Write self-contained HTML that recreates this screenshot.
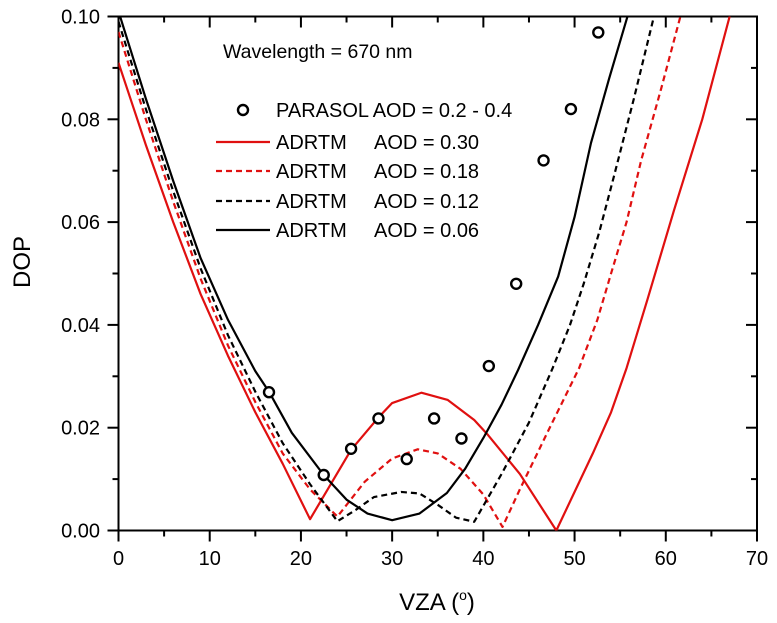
<!DOCTYPE html>
<html><head><meta charset="utf-8"><style>
body{margin:0;background:#fff}
svg{display:block;font-family:"Liberation Sans",Arial,sans-serif}
</style></head><body>
<svg id="chart" width="777" height="623" viewBox="0 0 777 623">
<defs><clipPath id="clip"><rect x="118.5" y="16.5" width="638.5" height="514"/></clipPath></defs>
<g id="axes"></g>
<g id="series" clip-path="url(#clip)"></g>
<g id="legend">
<text x="223" y="58" font-size="19.5">Wavelength = 670 nm</text>
</g>
<text x="437" y="610" font-size="24" text-anchor="middle">VZA (<tspan font-size="14" dy="-10">o</tspan><tspan dy="10">)</tspan></text>
<text transform="translate(30,262) rotate(-90)" font-size="24" text-anchor="middle">DOP</text>
</svg>
<script>
const xTicks=[0,10,20,30,40,50,60,70];
const yTicks=[0,0.02,0.04,0.06,0.08,0.10];
const yTickLabels=["0.00","0.02","0.04","0.06","0.08","0.10"];
const parasolX=[16.5,22.5,25.5,28.5,31.6,34.6,37.6,40.6,43.6,46.6,49.6,52.6];
const parasolY=[0.0269,0.0108,0.0159,0.0218,0.0139,0.0218,0.0179,0.032,0.048,0.072,0.082,0.0969];
const red30X=[0,3,6,9,12,15,18,21,25.5,28.5,30,33.2,36.1,39,40.5,44,48,52,54,55.7,58,60.9,64,67];
const red30Y=[0.091,0.075,0.060,0.046,0.034,0.023,0.013,0.0022,0.0157,0.022,0.0248,0.0268,0.0254,0.0215,0.0186,0.011,0,0.015,0.023,0.0316,0.045,0.0623,0.080,0.1];
const red18X=[0,3,6,9,12,15,18,21,24,27,30,32.8,35,37.5,40,42.1,44,47,50.5,52.5,54,55.7,57.3,59.5,61.6];
const red18Y=[0.097,0.080,0.064,0.049,0.036,0.025,0.015,0.008,0.0027,0.0095,0.014,0.0158,0.015,0.012,0.007,0.0007,0.008,0.019,0.0316,0.041,0.05,0.060,0.072,0.086,0.1];
const blk12X=[0,3,6,9,12,15,18,21,24,26,28,31,33,35,37,39,42,45,47.6,49.5,51,52.7,54.3,56.5,58.7];
const blk12Y=[0.099,0.082,0.066,0.051,0.038,0.027,0.017,0.009,0.0018,0.004,0.0065,0.0075,0.0072,0.005,0.0025,0.0017,0.011,0.021,0.0316,0.040,0.048,0.058,0.0688,0.084,0.1];
const blk06X=[0,3,6,9,12,15,16.5,19,22.5,25,27.3,30,33,36,38,40,42,43.8,46,48.2,50,51.8,53.8,55.8];
const blk06Y=[0.101,0.084,0.068,0.053,0.041,0.031,0.027,0.019,0.0108,0.006,0.0033,0.002,0.0033,0.0073,0.012,0.018,0.0245,0.0312,0.040,0.0494,0.061,0.0754,0.088,0.1];

const NS="http://www.w3.org/2000/svg";
const X0=118.5,X1=757,Y0=530.5,Y1=16.5;
function sx(v){return X0+(v-0)/(70-0)*(X1-X0);}
function sy(v){return Y0-(v-0)/(0.1-0)*(Y0-Y1);}
function mk(tag,attrs,parent){const e=document.createElementNS(NS,tag);for(const k in attrs)e.setAttribute(k,attrs[k]);parent.appendChild(e);return e;}
const axes=document.getElementById('axes');
const frame=mk('rect',{x:X0,y:Y1,width:X1-X0,height:Y0-Y1,fill:'none',stroke:'#000','stroke-width':2},axes);


for(let v=0;v<=70;v+=5){const major=v%10===0;const L=major?11:6;const x=sx(v);
 mk('line',{x1:x,x2:x,y1:Y0,y2:Y0+L,stroke:'#000','stroke-width':2},axes);
 mk('line',{x1:x,x2:x,y1:Y1,y2:Y1+L,stroke:'#000','stroke-width':2},axes);}
for(let i=0;i<=10;i++){const v=i*0.01;const major=i%2===0;const L=major?11:6;const y=sy(v);
 mk('line',{x1:X0-L,x2:X0,y1:y,y2:y,stroke:'#000','stroke-width':2},axes);
 mk('line',{x1:X1-L,x2:X1,y1:y,y2:y,stroke:'#000','stroke-width':2},axes);}
xTicks.forEach(v=>{const t=mk('text',{x:sx(v),y:565,'font-size':20,'text-anchor':'middle'},axes);t.textContent=v;
 
 });
yTicks.forEach((v,i)=>{const t=mk('text',{x:100,y:sy(v)+7,'font-size':20,'text-anchor':'end'},axes);t.textContent=yTickLabels[i];
 
 });
const series=document.getElementById('series');
function line(xs,ys,color,dash,name){const p=mk('polyline',{points:xs.map((x,i)=>sx(x)+','+sy(ys[i])).join(' '),fill:'none',stroke:color,'stroke-width':2.2,'stroke-dasharray':dash||'none','stroke-linejoin':'round'},series);
 
 }
line(red30X,red30Y,'#e01010',null,'line-aod-030');
line(red18X,red18Y,'#e01010','6,4','line-aod-018');
line(blk12X,blk12Y,'#000','6,4','line-aod-012');
line(blk06X,blk06Y,'#000',null,'line-aod-006');
parasolX.forEach((x,i)=>{const c=mk('circle',{cx:sx(x),cy:sy(parasolY[i]),r:5,fill:'#fff',stroke:'#000','stroke-width':2.4},series);
 
 });
const lg=document.getElementById('legend');
const rows=[{y:110,t:'PARASOL AOD = 0.2 - 0.4'},{y:142,c:'#e01010',a:'0.30'},{y:171,c:'#e01010',d:'6,4',a:'0.18'},{y:201,c:'#000',d:'6,4',a:'0.12'},{y:230,c:'#000',a:'0.06'}];
rows.forEach((r,i)=>{
 if(r.t){const c=mk('circle',{cx:243,cy:r.y,r:5,fill:'#fff',stroke:'#000','stroke-width':2.4},lg);
  
  
  const t=mk('text',{x:276,y:r.y+7,'font-size':20},lg);t.textContent=r.t;
  
  }
 else{const l=mk('line',{x1:216,x2:270,y1:r.y,y2:r.y,stroke:r.c,'stroke-width':2.2,'stroke-dasharray':r.d||'none'},lg);
  
  
  const t=mk('text',{x:276,y:r.y+7,'font-size':20},lg);t.textContent='ADRTM';
  
  
  const t2=mk('text',{x:374,y:r.y+7,'font-size':20},lg);t2.textContent='AOD = '+r.a;
  
  }
});
</script>
</body></html>
